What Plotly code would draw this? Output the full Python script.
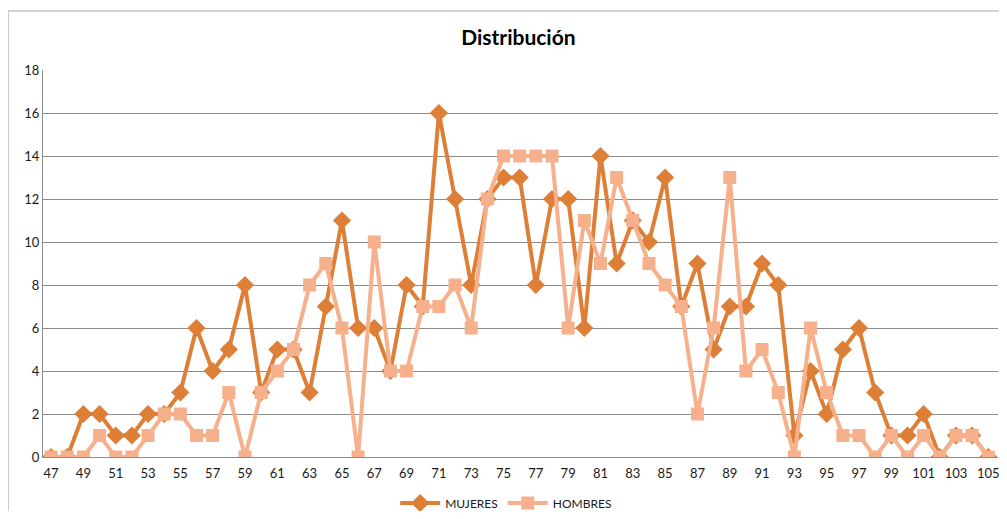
import plotly.graph_objects as go

edades = list(range(47, 106))
mujeres = [0, 0, 2, 2, 1, 1, 2, 2, 3, 6,
           4, 5, 8, 3, 5, 5, 3, 7, 11, 6,
           6, 4, 8, 7, 16, 12, 8, 12, 13, 13,
           8, 12, 12, 6, 14, 9, 11, 10, 13, 7,
           9, 5, 7, 7, 9, 8, 1, 4, 2, 5,
           6, 3, 1, 1, 2, 0, 1, 1, 0]
hombres = [0, 0, 0, 1, 0, 0, 1, 2, 2, 1,
           1, 3, 0, 3, 4, 5, 8, 9, 6, 0,
           10, 4, 4, 7, 7, 8, 6, 12, 14, 14,
           14, 14, 6, 11, 9, 13, 11, 9, 8, 7,
           2, 6, 13, 4, 5, 3, 0, 6, 3, 1,
           1, 0, 1, 0, 1, 0, 1, 1, 0]
tick_vals = list(range(47, 106, 2))
y_ticks = list(range(0, 19, 2))

c_muj = "#DD7F36"
c_hom = "#F6B08B"

fig = go.Figure()
fig.add_trace(go.Scatter(
    x=edades, y=mujeres, name="MUJERES", mode="lines+markers",
    line=dict(color=c_muj, width=4),
    marker=dict(symbol="diamond", size=14, color=c_muj),
))
fig.add_trace(go.Scatter(
    x=edades, y=hombres, name="HOMBRES", mode="lines+markers",
    line=dict(color=c_hom, width=4),
    marker=dict(symbol="square", size=13, color=c_hom),
))

fig.update_layout(
    width=991, height=503,
    margin=dict(l=35, r=1, t=62, b=54, autoexpand=False),
    paper_bgcolor="white", plot_bgcolor="white",
    font=dict(family="Lato, Open Sans, sans-serif", size=12, color="#1a1a1a"),
    title=dict(text="<b>Distribución</b>", x=0.515, xanchor="center",
               y=0.9404, yanchor="middle", font=dict(size=21, color="#000000")),
    xaxis=dict(range=[46.5, 105.6], tickmode="array", tickvals=tick_vals,
               ticktext=[str(v) for v in tick_vals], showgrid=False,
               showline=True, linecolor="#8c8c8c", linewidth=1,
               ticks="", zeroline=False, tickfont=dict(size=13),
               ticklabelstandoff=4, automargin=False,
               ticklabeloverflow="allow"),
    yaxis=dict(range=[0, 18], tickmode="array", tickvals=y_ticks,
               showgrid=True, gridcolor="#8c8c8c", gridwidth=1,
               showline=True, linecolor="#8c8c8c", linewidth=1,
               ticks="", zeroline=False, tickfont=dict(size=13),
               automargin=False),
    legend=dict(orientation="h", x=0.485, xanchor="center",
                yref="container", y=0.0159, yanchor="middle",
                font=dict(size=12, color="#1a1a1a"),
                itemwidth=40, tracegroupgap=0),
    shapes=[dict(type="rect", xref="paper", yref="paper",
                 x0=-0.0366, x1=1.02, y0=-0.3, y1=1.1525,
                 line=dict(color="#a6a6a6", width=1), layer="below")],
)

fig.write_html("out.html")
